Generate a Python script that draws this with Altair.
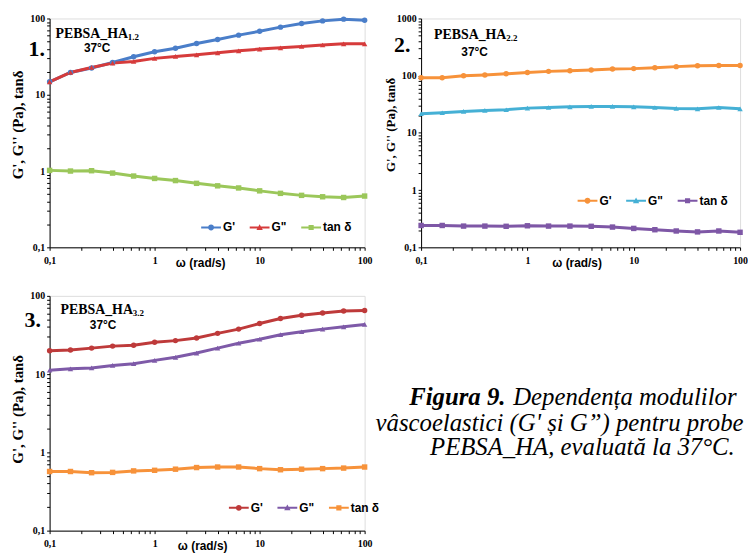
import altair as alt
import pandas as pd

# ---------------- data ----------------
omega = [0.1, 0.158, 0.251, 0.398, 0.631, 1, 1.58, 2.51, 3.98, 6.31, 10, 15.8, 25.1, 39.8, 63.1, 100]
series_names = ["G'", 'G"', "tan δ"]

p1_gp = [14.8, 19.6, 22.4, 26.5, 31.5, 36.6, 40.8, 47, 53, 60.5, 68, 77, 86, 93, 98, 95]
p1_gpp = [14.8, 19.6, 22.8, 26, 27.3, 30, 31.8, 33.4, 35.5, 37.7, 39.7, 41.3, 43, 44.9, 46.6, 46.6]
p1_tan = [1.02, 1.0, 1.01, 0.94, 0.86, 0.80, 0.75, 0.69, 0.64, 0.60, 0.55, 0.51, 0.48, 0.46, 0.45, 0.47]

p2_gp = [92, 92, 100, 103, 108, 114, 119, 122, 126, 131, 133, 138, 144, 149, 151, 151]
p2_gpp = [21.6, 22.5, 23.7, 24.7, 25.4, 27.1, 27.8, 28.6, 29, 29, 28.6, 27.8, 26.8, 26.4, 27.8, 26.4]
p2_tan = [0.241, 0.241, 0.235, 0.235, 0.233, 0.238, 0.235, 0.235, 0.233, 0.226, 0.214, 0.203, 0.193, 0.186, 0.193, 0.183]

p3_gp = [19.9, 20.3, 21.5, 22.8, 23.4, 25.5, 26.8, 29, 33.2, 37.6, 44.3, 51.3, 56.5, 60.5, 64.1, 65]
p3_gpp = [11.2, 11.7, 12.0, 12.9, 13.6, 15.0, 16.4, 18.6, 21.5, 24.8, 27.9, 31.9, 34.8, 37.6, 40.2, 43.1]
p3_tan = [0.57, 0.57, 0.55, 0.555, 0.58, 0.59, 0.61, 0.64, 0.65, 0.65, 0.62, 0.60, 0.61, 0.62, 0.63, 0.65]

p1_colors = ["#4A7EC9", "#D63B3B", "#9BC75A"]
p2_colors = ["#F7923A", "#45B0D5", "#7E57A6"]
p3_colors = ["#BE3A3A", "#7E5AA8", "#F7923A"]

caption_bold = "Figura 9."
caption_1 = "Dependența modulilor"
caption_2 = "vâscoelastici (G' și G”) pentru probele"
caption_3 = "PEBSA_HA, evaluată la 37°C."

# ---------------- helpers ----------------
def log_ticks(top):
    vals = []
    e = -1
    while 10 ** e < top:
        for m in range(1, 10):
            vals.append(round(m * 10 ** e, 6))
        e += 1
    vals.append(float(top))
    return vals

LABEL_EXPR = ("datum.value == 0.1 ? '0,1' : (indexof([1, 10, 100, 1000], datum.value) >= 0 ? "
              "format(datum.value, 'd') : '')")

PLOT_SHAPES = ["circle", "triangle-up", "square"]
BAR = "M-1,-0.1L1,-0.1L1,0.1L-1,0.1Z"
LEGEND_SHAPES = [
    BAR + "M-0.3,0A0.3,0.3 0 1,1 0.3,0A0.3,0.3 0 1,1 -0.3,0Z",
    BAR + "M0,-0.34L0.32,0.24L-0.32,0.24Z",
    BAR + "M-0.26,-0.26L0.26,-0.26L0.26,0.26L-0.26,0.26Z",
]


def txt(s, x, y, font, size, weight="bold", align="left", style="normal", limit=0):
    props = dict(font=font, fontSize=size, fontWeight=weight, align=align,
                 baseline="middle", fontStyle=style, color="black")
    if limit:
        props.update(limit=limit, ellipsis="\u200b")
    return alt.Chart(pd.DataFrame({"t": [s]})).mark_text(**props).encode(
        x=alt.value(x), y=alt.value(y), text="t:N")


def legend_def(xy):
    return alt.Legend(orient="none", legendX=xy[0], legendY=xy[1],
                      direction="horizontal", title=None,
                      symbolSize=400, symbolStrokeWidth=0, symbolOpacity=1,
                      labelFont="Liberation Sans", labelFontSize=12,
                      labelFontWeight="bold", labelColor="black",
                      labelOffset=2, columnPadding=14, padding=0)


def panel(gp, gpp, tan, colors, ymax, w, h, sub, num, ann, leg_xy,
          yt_size, yt_y, xt_x):
    df = pd.DataFrame({
        "omega": omega * 3,
        "value": gp + gpp + tan,
        "series": [n for n in series_names for _ in omega],
    })
    x = alt.X("omega:Q",
              scale=alt.Scale(type="log", domain=[0.1, 100]),
              axis=alt.Axis(values=log_ticks(100), labelExpr=LABEL_EXPR,
                            title="ω (rad/s)", titleX=xt_x, titleY=10,
                            titleFont="Liberation Sans", titleFontSize=12,
                            titleFontWeight="bold", titleColor="black",
                            labelFont="Liberation Serif", labelFontWeight="bold",
                            labelFontSize=10, labelColor="black",
                            labelOverlap=False, labelFlush=False,
                            tickSize=3, labelPadding=5, grid=False,
                            domainColor="black", tickColor="black"))
    y = alt.Y("value:Q",
              scale=alt.Scale(type="log", domain=[0.1, ymax]),
              axis=alt.Axis(values=log_ticks(ymax), labelExpr=LABEL_EXPR,
                            title="G', G'' (Pa), tanδ", titleX=-24, titleY=yt_y,
                            titleFont="Liberation Serif", titleFontSize=yt_size,
                            titleFontWeight="bold", titleColor="black",
                            labelFont="Liberation Serif", labelFontWeight="bold",
                            labelFontSize=10, labelColor="black",
                            labelOverlap=False, labelFlush=False,
                            tickSize=3, labelPadding=2, grid=False,
                            domainColor="black", tickColor="black"))
    cscale = alt.Scale(domain=series_names, range=colors)
    base = alt.Chart(df)
    lines = base.mark_line(strokeWidth=3).encode(
        x=x, y=y, color=alt.Color("series:N", scale=cscale, legend=None))
    pts = base.mark_point(filled=True, opacity=1, size=30).encode(
        x=x, y=y,
        color=alt.Color("series:N", scale=cscale, legend=None),
        shape=alt.Shape("series:N",
                        scale=alt.Scale(domain=series_names, range=PLOT_SHAPES),
                        legend=None))
    leg = base.transform_filter("false").mark_point(filled=True, opacity=1).encode(
        x=x, y=y,
        color=alt.Color("series:N", scale=cscale, legend=legend_def(leg_xy)),
        shape=alt.Shape("series:N",
                        scale=alt.Scale(domain=series_names, range=LEGEND_SHAPES),
                        legend=legend_def(leg_xy)))
    (hx, hy), (sx, sy), (cx, cy), (nx, ny) = ann
    texts = [
        txt("PEBSA_HA", hx, hy, "Liberation Serif", 14),
        txt(sub, sx, sy, "Liberation Serif", 9),
        txt("37°C", cx, cy, "Liberation Sans", 12, align="center"),
        txt(num, nx, ny, "Liberation Serif", 22, align="center"),
    ]
    return alt.layer(lines, pts, leg, *texts).resolve_scale(
        color="independent", shape="independent").properties(width=w, height=h)


p1 = panel(p1_gp, p1_gpp, p1_tan, p1_colors, 100, 318, 231, "1.2", "1.",
           [(6, 16), (79, 19), (48, 30), (-13, 31)], (153, 201), 15, 107, 152)
p2 = panel(p2_gp, p2_gpp, p2_tan, p2_colors, 1000, 322, 231, "2.2", "2.",
           [(13, 17), (86, 20), (54, 34), (-19, 27)], (158, 174), 13, 107, 157)
p3 = panel(p3_gp, p3_gpp, p3_tan, p3_colors, 100, 318, 237, "3.2", "3.",
           [(11, 14), (84, 17), (54, 29), (-17, 24)], (181, 204), 15, 114, 154)

cap = alt.layer(
    txt(caption_bold, -12, 102, "Liberation Serif", 25, weight="bold", style="italic"),
    txt(caption_1, 93, 102, "Liberation Serif", 25, weight="normal", style="italic", limit=236),
    txt(caption_2, -46, 128, "Liberation Serif", 25, weight="normal", style="italic", limit=375),
    txt(caption_3, 9, 153, "Liberation Serif", 25, weight="normal", style="italic", limit=320),
).properties(width=322, height=237, view=alt.ViewConfig(stroke="transparent", strokeWidth=0))

chart = alt.concat(p1, p2, p3, cap, columns=2, bounds="flush",
                   spacing={"row": 49, "column": 57}).properties(
    padding={"left": 2, "top": 2, "right": 0, "bottom": 0}
).configure_view(stroke="transparent", strokeWidth=0).configure(background="white")

chart.save("out.html", embed_options={"renderer": "svg", "actions": False})
